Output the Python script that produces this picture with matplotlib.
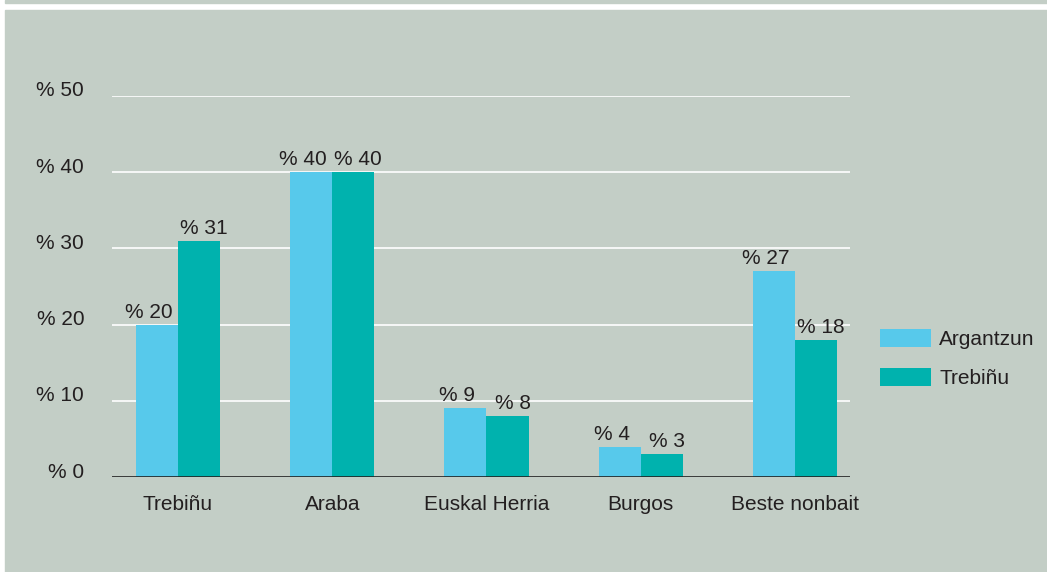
import numpy as np
import matplotlib
matplotlib.use("Agg")
import matplotlib.pyplot as plt
from matplotlib.patches import Rectangle
from matplotlib.transforms import ScaledTranslation

plt.rcParams['font.family'] = ['Liberation Sans', 'DejaVu Sans']

# data
categories = ['Trebiñu', 'Araba', 'Euskal Herria', 'Burgos', 'Beste nonbait']
argantzun = [20, 40, 9, 4, 27]
trebinu = [31, 40, 8, 3, 18]
series_names = ['Argantzun', 'Trebiñu']
y_ticks = [0, 10, 20, 30, 40, 50]

BG = '#c3cec6'
C_LIGHT = '#57c9eb'
C_TEAL = '#00b2ae'
TXT = '#231f20'
FS = 15

W, H = 1047, 572
fig = plt.figure(figsize=(W / 100, H / 100), dpi=100, facecolor='white')

# background panel and thin top strip
fig.patches.append(Rectangle((5 / W, 0), 1 - 5 / W, (H - 10) / H,
                             transform=fig.transFigure, color=BG, zorder=-10))
fig.patches.append(Rectangle((5 / W, (H - 3) / H), 1 - 5 / W, 3 / H,
                             transform=fig.transFigure, color=BG, zorder=-10))

ax = fig.add_axes([112 / W, 1 - 477 / H, 738 / W, (477 - 96) / H])
ax.set_facecolor('none')

x = np.arange(len(categories))
bw = 0.273
b1 = ax.bar(x - bw / 2, argantzun, bw, color=C_LIGHT, label=series_names[0], zorder=3)
b2 = ax.bar(x + bw / 2, trebinu, bw, color=C_TEAL, label=series_names[1], zorder=3)

ax.set_xlim(-0.428, 4.357)
ax.set_ylim(0, 50)

for v in y_ticks[1:]:
    ax.axhline(v, color='white', lw=1.2, zorder=1)
ax.axhline(0, color='#222222', lw=1.2, zorder=4)

for s in ax.spines.values():
    s.set_visible(False)

ax.set_xticks(x)
ax.set_xticklabels(categories, fontsize=FS, color=TXT)
ax.set_yticks(y_ticks)
ax.set_yticklabels(['% {}'.format(v) for v in y_ticks], fontsize=FS, color=TXT)
ax.tick_params(axis='both', length=0)
ax.tick_params(axis='x', pad=13)
ax.tick_params(axis='y', pad=20)
for lab in ax.get_yticklabels():
    lab.set_transform(lab.get_transform() + ScaledTranslation(0, 7 / 100, fig.dpi_scale_trans))

# value labels
for bars, vals, dx in [(b1, argantzun, -8), (b2, trebinu, 5)]:
    for r, v in zip(bars, vals):
        ax.annotate('% {}'.format(v), (r.get_x() + r.get_width() / 2, r.get_height()),
                    xytext=(dx, 3), textcoords='offset pixels',
                    ha='center', va='bottom', fontsize=FS, color=TXT, zorder=5)

leg = ax.legend(loc='upper left', bbox_to_anchor=(880 / W, 1 - 329 / H),
                bbox_transform=fig.transFigure, frameon=False, fontsize=FS,
                borderpad=0, handlelength=2.45, handleheight=0.95,
                handletextpad=0.4, labelspacing=0.9, borderaxespad=0)
for t in leg.get_texts():
    t.set_color(TXT)

fig.savefig('out.png', dpi=100, facecolor='white')
